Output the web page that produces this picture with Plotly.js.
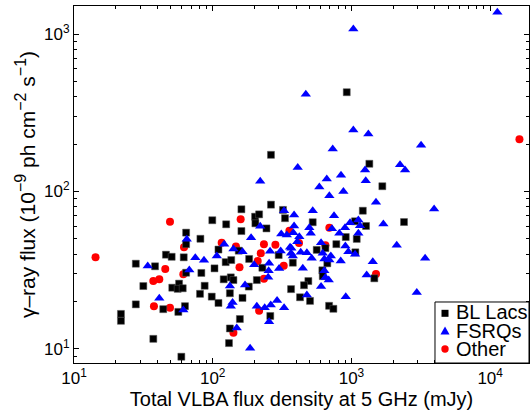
<!DOCTYPE html>
<html>
<head>
<meta charset="utf-8">
<script src="https://cdn.plot.ly/plotly-3.0.1.min.js"></script>
<style>html,body{margin:0;padding:0;background:#fff;}#chart{width:531px;height:417px;}</style>
</head>
<body>
<div id="chart"></div>
<script>
// ---- data ----
const seriesNames = ["BL Lacs", "FSRQs", "Other"];

const blLacX = [21.8,21.8,27.9,31.6,27.9,37.3,38.4,46.0,50.6,51.1,57.2,55.9,60.8,44.0,56.5,63.1,64.3,61.8,64.3,59.4,
  81.5,82.8,87.5,81.0,99.3,110,103,98.4,110,125,124,120,136,135,141,133,133,131,161,161,
  154,183,182,164,157,202,216,203,244,263,208,228,260,299,332,378,367,426,1670,1208,
  526,1062,1274,2393,910,1092,778,649,1067,670,617,621,489,455,503,690,741,1462,562,925,
  1346,263,321,64.3];
const blLacY = [16.7,15.1,34.8,25.1,19.2,11.6,33.5,39.7,38.5,24.5,26.0,24.1,24.3,17.9,17.2,18.7,54.8,38.2,30.5,8.93,
  50.1,30.4,25.2,22.4,65.7,42.8,32.5,21.5,19.6,61.9,35.6,27.7,36.7,28.5,27.4,22.6,13.5,10.9,77.1,56.1,
  42.1,37.3,24.9,21.1,15.5,69.2,71.6,62.8,58.3,82.5,27.4,32.8,16.2,39.5,67.7,35.3,24.0,21.3,108,75.5,
  63.8,64.7,60.4,64.0,51.4,50.0,46.3,43.7,41.1,35.0,31.6,29.0,27.0,25.4,20.2,18.8,18.0,28.1,42.6,427,
  150,171,76.4,46.3];

const fsrqX = [11270,1032,469,1032,1324,733,3177,410,2240,2436,664,841,1254,1268,587,693,875,220,1503,3944,
  386,526,749,977,1122,1699,1153,386,497,724,509,818,899,1122,421,381,604,369,407,904,
  950,1062,2121,431,477,517,621,710,693,638,837,1425,3397,446,638,649,686,1288,604,477,
  910,2958,378,34.0,65.0,67.8,74.9,86.5,41.2,61.4,107,121,141,164,189,220,199,133,171,139,
  135,149,186,208,237,262,291,327,255,255,253,251,259,301,309,361,367,312,342,327];
const fsrqY = [1374,1076,414,246,232,186,197,142,148,137,120,127,137,117,107,94.0,100,116,85.5,77.4,
  70.9,75.5,70.2,63.4,65.9,62.2,60.7,60.4,58.9,58.0,54.3,54.3,58.9,54.3,51.6,54.8,47.3,43.6,48.0,45.1,
  41.5,39.9,45.5,41.1,40.9,37.7,40.5,39.0,36.7,37.3,36.2,35.8,37.7,32.5,31.4,28.4,27.4,29.5,24.9,22.0,
  21.5,22.8,39.0,33.6,49.8,31.7,38.0,36.6,21.0,17.7,39.0,46.3,43.2,41.5,50.9,60.1,34.3,25.1,25.5,19.7,
  18.7,13.6,10.1,18.7,18.3,19.0,20.3,18.3,14.9,35.0,31.4,28.5,41.7,32.4,41.9,44.2,40.5,53.7,52.9,75.5];

const otherX = [14.3,49.2,62.1,45.5,37.3,41.2,61.4,37.7,49.2,159,116,147,156,234,222,283,325,211,216,141,
  234,357,419,693,649,1503,16260];
const otherY = [38.2,64.3,44.2,32.2,27.0,27.7,29.8,18.7,18.3,66.7,47.3,44.7,33.0,46.3,40.5,45.9,33.8,36.2,17.5,12.7,
  27.9,56.4,47.1,58.9,45.5,29.9,215];

const xTickVals = [10, 100, 1000, 10000];
const xTickText = ["10<sup>1</sup>", "10<sup>2</sup>", "10<sup>3</sup>", "10<sup>4</sup>"];
const yTickVals = [10, 100, 1000];
const yTickText = ["10<sup>1</sup>", "10<sup>2</sup>", "10<sup>3</sup>"];

const xTitle = "Total VLBA flux density at 5 GHz (mJy)";
const SUP = (s) => '<sup><span style="font-size:16px">' + s + '</span></sup>';
const yTitle = "γ–ray flux (10" + SUP("−9") + " ph cm" + SUP("−2") + " s" + SUP("−1") + ")";

// ---- figure ----
const FONT = "Liberation Sans, Arial, Helvetica, sans-serif";
const traces = [
  {x: otherX, y: otherY, name: seriesNames[2], type: "scatter", mode: "markers",
   marker: {symbol: "circle", size: 8, color: "#ff0000", line: {width: 0}}},
  {x: blLacX, y: blLacY, name: seriesNames[0], type: "scatter", mode: "markers",
   marker: {symbol: "square", size: 7, color: "#000000", line: {width: 0.5, color: "#555"}}},
  {x: fsrqX, y: fsrqY, name: seriesNames[1], type: "scatter", mode: "markers",
   marker: {symbol: "triangle-up", size: 9, color: "#0000ff", line: {width: 0}}}
];

// legend drawn in paper coordinates (box, symbols, labels)
const shapes = [
  {type: "rect", xref: "paper", yref: "paper", x0: 0.7934, x1: 1.0, y0: 0, y1: 0.1709,
   line: {color: "#000", width: 1}, fillcolor: "#fff", layer: "above"},
  {type: "rect", xref: "paper", yref: "paper", x0: 0.8077, x1: 0.8231, y0: 0.1294, y1: 0.1490,
   line: {width: 0}, fillcolor: "#000", layer: "above"},
  {type: "path", xref: "paper", yref: "paper", path: "M 0.8154 0.1022 L 0.8055 0.0798 L 0.8253 0.0798 Z",
   line: {width: 0}, fillcolor: "#0000ff", layer: "above"},
  {type: "circle", xref: "paper", yref: "paper", x0: 0.8073, x1: 0.8235, y0: 0.0289, y1: 0.0496,
   line: {width: 0}, fillcolor: "#ff0000", layer: "above"}
];
const legendY = [0.142, 0.0895, 0.0385];
const annotations = seriesNames.map((n, i) => ({
  text: n, xref: "paper", yref: "paper", x: 0.8352, y: legendY[i],
  xanchor: "left", yanchor: "middle", showarrow: false,
  font: {family: FONT, size: 20, color: "#000"}
}));

const axisCommon = {
  type: "log", showline: true, linecolor: "#000", linewidth: 1, mirror: "allticks",
  ticks: "inside", ticklen: 5, tickcolor: "#000", tickwidth: 1,
  showgrid: false, zeroline: false, tickmode: "array",
  tickfont: {family: FONT, size: 17, color: "#000"},
  minor: {tickmode: "linear", dtick: "D1", ticks: "inside", ticklen: 3, tickcolor: "#000", tickwidth: 1, showgrid: false}
};

const layout = {
  width: 531, height: 417,
  margin: {l: 74, r: 2, t: 6, b: 54, pad: 0},
  paper_bgcolor: "#fff", plot_bgcolor: "#fff",
  font: {family: FONT, color: "#000"},
  showlegend: false,
  xaxis: Object.assign({}, axisCommon, {
    range: [1, 4.28], tickvals: xTickVals, ticktext: xTickText,
    title: {text: xTitle, font: {family: FONT, size: 20, color: "#000"}, standoff: 3}
  }),
  yaxis: Object.assign({}, axisCommon, {
    range: [0.911, 3.178], tickvals: yTickVals, ticktext: yTickText,
    title: {text: yTitle, font: {family: FONT, size: 21, color: "#000"}, standoff: 2}
  }),
  shapes: shapes,
  annotations: annotations
};

Plotly.newPlot("chart", traces, layout, {displayModeBar: false, staticPlot: true});
</script>
</body>
</html>
